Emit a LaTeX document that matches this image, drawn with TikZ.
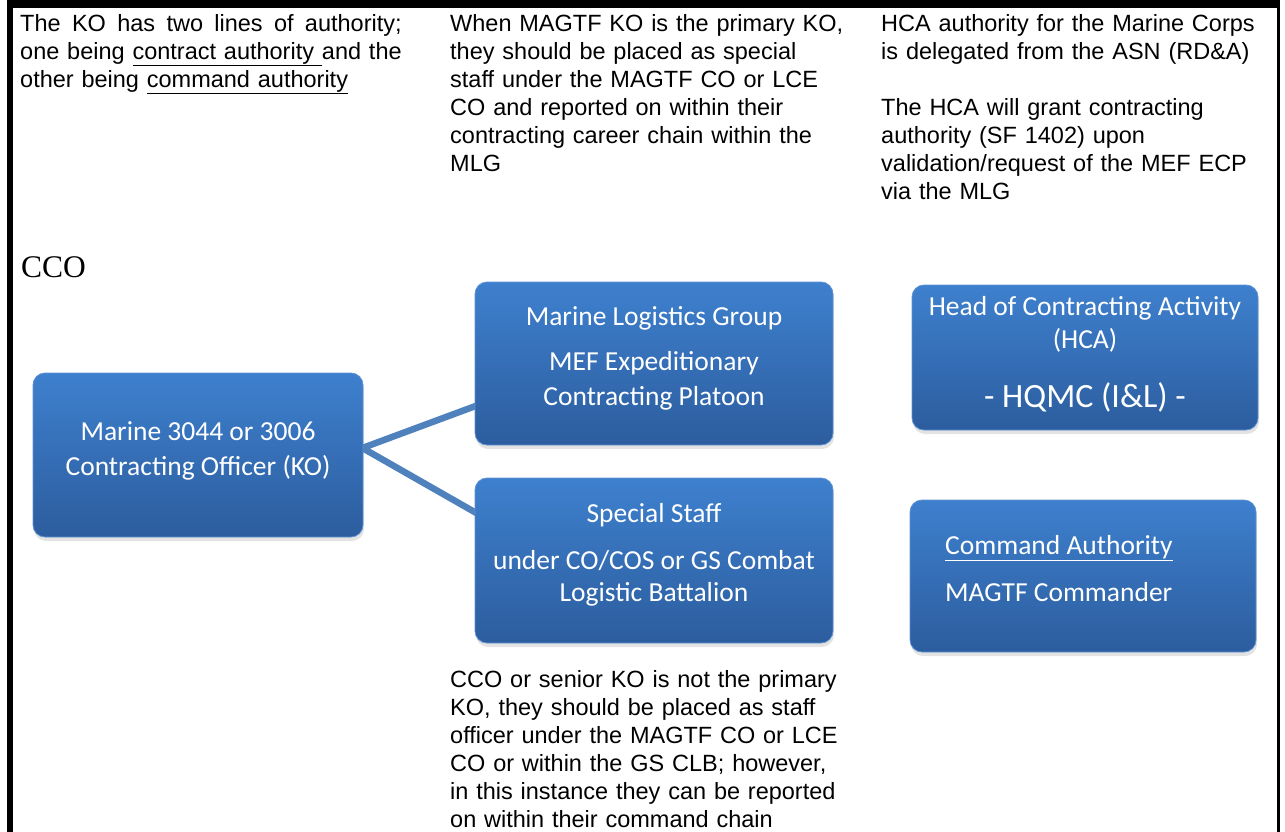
\documentclass[tikz,border=0pt]{standalone}
\usepackage{fontspec}
\setmainfont{Liberation Sans}
\newfontfamily\serifcco{Liberation Serif}
\newfontfamily\boxfont{Carlito}
\usetikzlibrary{calc,shadows}
\pgfdeclarelayer{background}
\pgfsetlayers{background,main}
\definecolor{boxtop}{RGB}{62,128,206}
\definecolor{boxbot}{RGB}{44,93,158}
\definecolor{boxedge}{RGB}{95,145,210}
\definecolor{conn}{RGB}{79,129,189}
\newcommand\fstrut{\rule{0pt}{20pt}}
\newsavebox\lnbox
\begin{document}
\begin{tikzpicture}[x=1pt,y=-1pt,
  box/.style={rounded corners=12pt, top color=boxtop, bottom color=boxbot,
    draw=boxedge, line width=0.8pt, inner sep=0pt,
    drop shadow={opacity=0.22, shadow xshift=1pt, shadow yshift=-4pt}},
  toptext/.style={font=\fontsize{23.5}{28}\selectfont, anchor=north west,
    inner sep=0pt, text width=440pt, align=left},
  boxline/.style={font=\boxfont\fontsize{27.5}{30}\selectfont, text=white,
    inner sep=0pt, anchor=base},
  connector/.style={draw=conn, line width=6.5pt}
]
\useasboundingbox (0,0) rectangle (1285,832);
% frame
\fill[black] (7,0) rectangle (1280,8);
\fill[black] (7,0) rectangle (13,832);
\fill[black] (1277,0) rectangle (1280,832);

% top texts
\node[toptext] (t1) at (20,11) {\sbox\lnbox{one being \underline{contract authority\ }and the}%
\fstrut\hbox to \wd\lnbox{\spaceskip=\fontdimen2\font plus 1fil The KO has two lines of authority;}\\
\usebox\lnbox\\
other being \underline{command authority}};
\node[toptext] (t2) at (450,11) {\fstrut When MAGTF KO is the primary KO,\\
they should be placed as special\\
staff under the MAGTF CO or LCE\\
CO and reported on within their\\
contracting career chain within the\\
MLG};
\node[toptext] (t3) at (881,11) {\fstrut HCA authority for the Marine Corps\\
is delegated from the ASN (RD\&A)\\[28pt]
The HCA will grant contracting\\
authority (SF 1402) upon\\
validation/request of the MEF ECP\\
via the MLG};

\node[font=\serifcco\fontsize{31.5}{36}\selectfont, anchor=base west, inner sep=0pt] (cco) at (21,277) {CCO};

% boxes
\node[box, minimum width=330pt, minimum height=164pt] (ko) at (198,455) {};
\node[box, minimum width=358pt, minimum height=163pt] (mlg) at (654,363.5) {};
\node[box, minimum width=346pt, minimum height=145pt] (hca) at (1085,357.5) {};
\node[box, minimum width=358pt, minimum height=165pt] (ss) at (654,560.5) {};
\node[box, minimum width=346pt, minimum height=152pt] (cmd) at (1083,576) {};

% box texts
\node[boxline] (ko1) at (198,440) {Marine 3044 or 3006};
\node[boxline] (ko2) at (198,475) {Contracting Officer (KO)};
\node[boxline] (mlg1) at (654,325) {Marine Logistics Group};
\node[boxline] (mlg2) at (654,370) {MEF Expeditionary};
\node[boxline] (mlg3) at (654,405) {Contracting Platoon};
\node[boxline] (hca1) at (1085,315) {Head of Contracting Activity};
\node[boxline] (hca2) at (1085,348) {(HCA)};
\node[boxline, font=\boxfont\fontsize{34}{38}\selectfont] (hca3) at (1085,407) {- HQMC (I\&L) -};
\node[boxline] (ss1) at (654,522) {Special Staff};
\node[boxline] (ss2) at (654,569) {under CO/COS or GS Combat};
\node[boxline] (ss3) at (654,601) {Logistic Battalion};
\node[boxline, anchor=base west] (cmd1) at (945,554) {\underline{Command Authority}};
\node[boxline, anchor=base west] (cmd2) at (945,601) {MAGTF Commander};

% bottom text
\node[toptext] (t4) at (450,667) {\fstrut CCO or senior KO is not the primary\\
KO, they should be placed as staff\\
officer under the MAGTF CO or LCE\\
CO or within the GS CLB; however,\\
in this instance they can be reported\\
on within their command chain};

% connectors
\coordinate (j) at ($(ko.east)+(-1,-7)$);
\begin{pgfonlayer}{background}
\draw[connector] ($(mlg.south west)+(8,-42)$) -- (j) -- ($(ss.north west)+(8,39)$);
\draw[connector] ($(mlg.east)+(-10,1.5)$) -- ($(mlg.east)+(0,1.5)$ -| hca.center);
\draw[connector] ($(ss.east)+(-10,21.5)$) -- ($(ss.east)+(0,21.5)$ -| cmd.center);
\end{pgfonlayer}
\end{tikzpicture}
\end{document}
